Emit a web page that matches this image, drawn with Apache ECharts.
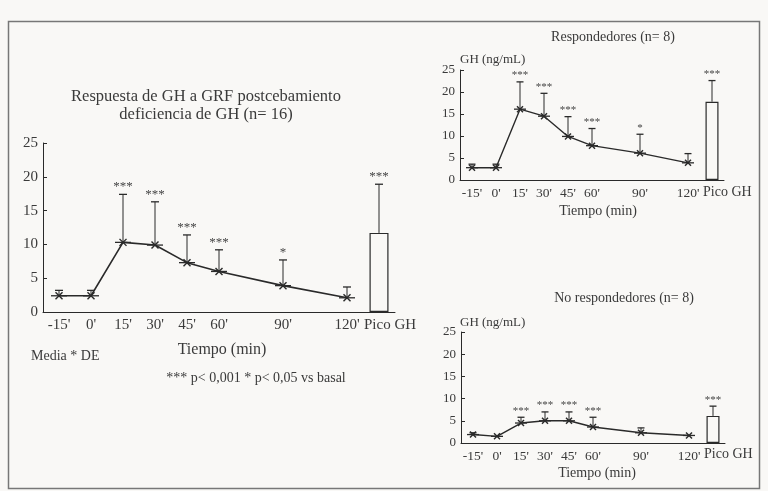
<!DOCTYPE html>
<html>
<head>
<meta charset="utf-8">
<script src="https://cdn.jsdelivr.net/npm/echarts@6/dist/echarts.min.js"></script>
<style>
html,body{margin:0;padding:0;background:#f9f8f6;}
#c{width:768px;height:491px;}
</style>
</head>
<body>
<div id="c"></div>
<script>
// ---- data ----
const categories = ["-15'", "0'", "15'", "30'", "45'", "60'", "75'", "90'", "105'", "120'", "Pico GH"];
// tick labels under each category (75' and 105' are unlabelled; "Pico GH" is set beside its bar)
const tickLabels = ["-15'", "0'", "15'", "30'", "45'", "60'", "", "90'", "", "120'", ""];
const peakLabel = "Pico GH";

const mainMean  = [2.4, 2.4, 10.3, 9.9, 7.3, 6.0, null, 3.9, null, 2.1, null];
const mainUpper = [3.2, 3.2, 17.4, 16.3, 11.4, 9.2, null, 7.7, null, 3.7, 18.9];
const mainPeak  = [null, null, null, null, null, null, null, null, null, null, 11.7];
const mainSig   = ['', '', '***', '***', '***', '***', '', '*', '', '', '***'];

const respMean  = [2.8, 2.8, 16.1, 14.5, 9.9, 7.8, null, 6.1, null, 3.9, null];
const respUpper = [3.6, 3.6, 22.3, 19.7, 14.4, 11.7, null, 10.4, null, 6.0, 22.6];
const respPeak  = [null, null, null, null, null, null, null, null, null, null, 17.8];
const respSig   = ['', '', '***', '***', '***', '***', '', '*', '', '', '***'];

const noMean    = [1.9, 1.5, 4.5, 5.0, 5.0, 3.6, null, 2.3, null, 1.7, null];
const noUpper   = [2.3, null, 5.8, 7.0, 7.0, 5.8, null, 3.4, null, null, 8.3];
const noPeak    = [null, null, null, null, null, null, null, null, null, null, 6.1];
const noSig     = ['', '', '***', '***', '***', '***', '', '', '', '', '***'];

// ---- styling ----
const INK = '#2a2a2a';
const TXT = '#3a3a3a';
const FONT = 'Liberation Serif';
const BG = '#f9f8f6';

const chart = echarts.init(document.getElementById('c'), null, {renderer: 'canvas'});

function xAxisCfg(gi, fs) {
  return {
    type: 'category', gridIndex: gi, data: categories, boundaryGap: true,
    axisLine: {lineStyle: {color: INK, width: 1}},
    axisTick: {inside: true, length: 4, alignWithLabel: true, interval: 0, lineStyle: {color: INK}},
    axisLabel: {interval: 0, color: TXT, fontFamily: FONT, fontSize: fs, margin: 6,
      formatter: (v, i) => tickLabels[i]},
    splitLine: {show: false}
  };
}
function yAxisCfg(gi, fs) {
  return {
    type: 'value', gridIndex: gi, min: 0, max: 25, interval: 5,
    axisLine: {show: true, lineStyle: {color: INK, width: 1}},
    axisTick: {show: true, inside: true, length: 4, lineStyle: {color: INK}},
    axisLabel: {color: TXT, fontFamily: FONT, fontSize: fs, margin: 5},
    splitLine: {show: false}
  };
}

function errSeries(gi, mean, upper, peak, sig, opts) {
  const data = categories.map((c, i) => [i, mean[i] != null ? mean[i] : (peak[i] != null ? peak[i] : null), upper[i]]);
  return {
    type: 'custom', xAxisIndex: gi, yAxisIndex: gi, z: 5,
    data: data.filter(d => d[1] != null),
    renderItem: function (params, api) {
      const i = api.value(0);
      const m = api.value(1);
      const u = api.value(2);
      const pm = api.coord([i, m]);
      const children = [];
      let topY = pm[1];
      if (u != null && !isNaN(u)) {
        const pu = api.coord([i, u]);
        topY = pu[1];
        children.push({type: 'line', shape: {x1: pm[0], y1: pm[1], x2: pm[0], y2: pu[1]}, style: {stroke: INK, lineWidth: 1}});
        children.push({type: 'line', shape: {x1: pm[0] - opts.cap, y1: pu[1], x2: pm[0] + opts.cap, y2: pu[1]}, style: {stroke: INK, lineWidth: 1.3}});
      }
      if (mean[i] != null) {
        const s = opts.star;
        children.push({type: 'line', shape: {x1: pm[0] - opts.hw, y1: pm[1], x2: pm[0] + opts.hw, y2: pm[1]}, style: {stroke: INK, lineWidth: 1.3}});
        children.push({type: 'line', shape: {x1: pm[0] - s, y1: pm[1] - s, x2: pm[0] + s, y2: pm[1] + s}, style: {stroke: INK, lineWidth: 1.4}});
        children.push({type: 'line', shape: {x1: pm[0] - s, y1: pm[1] + s, x2: pm[0] + s, y2: pm[1] - s}, style: {stroke: INK, lineWidth: 1.4}});
      }
      if (sig[i]) {
        children.push({type: 'text', x: pm[0], y: topY - opts.sigGap,
          style: {text: sig[i], fill: '#444', font: opts.sigFont, align: 'center', verticalAlign: 'bottom'}});
      }
      return {type: 'group', children: children};
    }
  };
}

function lineSeries(gi, mean, w) {
  return {type: 'line', xAxisIndex: gi, yAxisIndex: gi, data: mean, connectNulls: true,
    symbol: 'none', lineStyle: {color: INK, width: w}, z: 4, animation: false};
}
function barSeries(gi, peak, bw) {
  return {type: 'bar', xAxisIndex: gi, yAxisIndex: gi, data: peak, barWidth: bw,
    itemStyle: {color: BG, borderColor: INK, borderWidth: 1.2}, z: 3, animation: false};
}

const txt = (x, y, text, size, align) => ({type: 'text', x: x, y: y,
  style: {text: text, fill: TXT, font: size + 'px "' + FONT + '"', textAlign: align || 'center', textVerticalAlign: 'middle'}});

chart.setOption({
  backgroundColor: BG,
  animation: false,
  grid: [
    {left: 43, top: 143, width: 352, height: 169},
    {left: 460, top: 70, width: 264, height: 110},
    {left: 461, top: 332, width: 264, height: 111}
  ],
  xAxis: [xAxisCfg(0, 15), xAxisCfg(1, 13.5), xAxisCfg(2, 13.5)],
  yAxis: [yAxisCfg(0, 15), yAxisCfg(1, 13), yAxisCfg(2, 13)],
  series: [
    barSeries(0, mainPeak, 19),
    lineSeries(0, mainMean, 1.6),
    errSeries(0, mainMean, mainUpper, mainPeak, mainSig, {cap: 4, hw: 8, star: 3.5, sigGap: 1, sigFont: '13px "' + FONT + '"'}),
    barSeries(1, respPeak, 13),
    lineSeries(1, respMean, 1.4),
    errSeries(1, respMean, respUpper, respPeak, respSig, {cap: 3.5, hw: 6, star: 3, sigGap: 1, sigFont: '11px "' + FONT + '"'}),
    barSeries(2, noPeak, 13),
    lineSeries(2, noMean, 1.4),
    errSeries(2, noMean, noUpper, noPeak, noSig, {cap: 3.5, hw: 6, star: 3, sigGap: 1, sigFont: '11px "' + FONT + '"'})
  ],
  graphic: [
    {type: 'rect', shape: {x: 8.5, y: 21.5, width: 751, height: 467}, style: {fill: null, stroke: '#777', lineWidth: 1.5}, silent: true},
    txt(206, 97, 'Respuesta de GH a GRF postcebamiento', 16.5),
    txt(206, 115, 'deficiencia de GH (n= 16)', 16.5),
    txt(364, 325, peakLabel, 15, 'left'),
    txt(222, 350, 'Tiempo (min)', 16),
    txt(31, 356, 'Media * DE', 14, 'left'),
    txt(256, 378, '*** p< 0,001 * p< 0,05 vs basal', 14),
    txt(613, 37, 'Respondedores (n= 8)', 14),
    txt(460, 60, 'GH (ng/mL)', 13, 'left'),
    txt(703, 192, peakLabel, 14, 'left'),
    txt(598, 211, 'Tiempo (min)', 14),
    txt(624, 298, 'No respondedores (n= 8)', 14),
    txt(460, 323, 'GH (ng/mL)', 13, 'left'),
    txt(704, 454, peakLabel, 14, 'left'),
    txt(597, 473, 'Tiempo (min)', 14)
  ]
});
</script>
</body>
</html>
